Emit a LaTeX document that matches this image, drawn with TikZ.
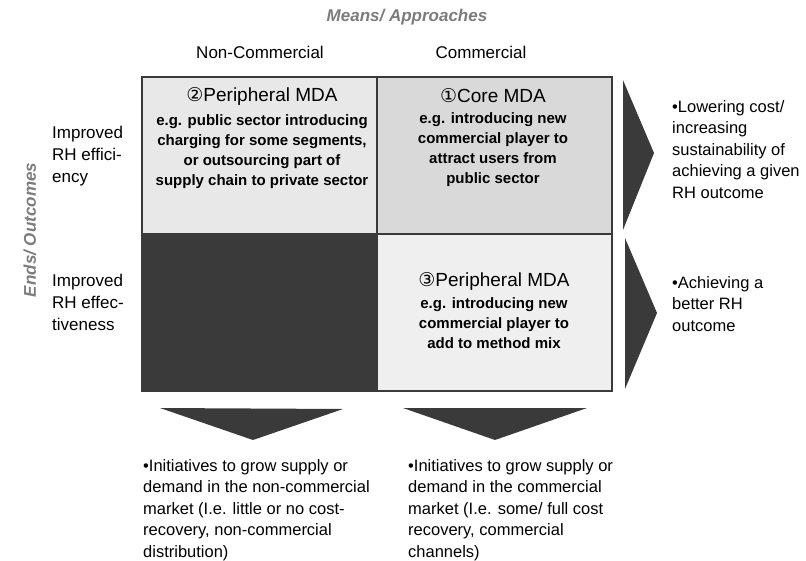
\documentclass[tikz,border=0pt]{standalone}
\usepackage{fontspec}
\setmainfont{Liberation Sans}
\newfontfamily\circfont{DejaVu Sans}
\usetikzlibrary{positioning}

\definecolor{cellgrey}{HTML}{E8E8E8}
\definecolor{coregrey}{HTML}{D9D9D9}
\definecolor{darkcell}{HTML}{3A3A3A}
\definecolor{axisgrey}{HTML}{7C7C7C}

\begin{document}
\begin{tikzpicture}[x=1pt,y=-1pt,
        axis/.style={font=\fontsize{17}{20}\selectfont\bfseries\itshape, text=axisgrey, inner sep=0pt},
        colhead/.style={font=\fontsize{17}{20}\selectfont, inner sep=0pt},
        rowhead/.style={font=\fontsize{17}{22}\selectfont, align=left, anchor=north west, inner sep=0pt},
        mdatitle/.style={font=\fontsize{19}{22}\selectfont, inner sep=0pt},
        mdanote/.style={font=\fontsize{15}{20}\selectfont\bfseries, align=center, inner sep=0pt},
        result/.style={font=\fontsize{16.5}{21.5}\selectfont, align=left, anchor=north west, inner sep=0pt},
        arrowfill/.style={fill=darkcell}]
    \useasboundingbox (0,0) rectangle (806,560);

    \begin{scope}
        % quadrants
        \fill[cellgrey] (142, 77) rectangle (377, 234);
        \fill[coregrey] (377, 77) rectangle (612, 234);
        \fill[darkcell] (142, 234) rectangle (377, 391);
        \fill[cellgrey!70!white] (377, 234) rectangle (612, 391);
        \draw[line width=2pt, darkcell] (142, 77) rectangle (612, 391);
        \draw[line width=2pt, darkcell] (377, 77) -- (377, 391);
        \draw[line width=2pt, darkcell] (142, 234) -- (612, 234);

        % arrows
        \fill[arrowfill] (623, 80) -- (654, 153) -- (623, 230) -- cycle;
        \fill[arrowfill] (625, 238) -- (657, 313) -- (625, 389) -- cycle;
        \fill[arrowfill] (160, 408) -- (343, 409) -- (253, 440) -- cycle;
        \fill[arrowfill] (403, 408) -- (587, 408) -- (495, 440) -- cycle;
    \end{scope}

    % axes
    \node[axis] (means) at (407, 17) {Means/ Approaches};
    \node[axis, rotate=90] (ends) at (30, 230) {Ends/ Outcomes};
    \node[colhead] (noncomm) at (260, 52) {Non-Commercial};
    \node[colhead] (comm) at (481, 52) {Commercial};
    \node[rowhead] (effic) at (52, 126) {Improved\\RH effici-\\ency};
    \node[rowhead] (effect) at (52, 274) {Improved\\RH effec-\\tiveness};

    % quadrant texts
    \node[mdatitle] (periph2) at (262, 96) {{\circfont②}Peripheral MDA};
    \node[mdanote, below=9pt of periph2] (note2) {e.g. public sector introducing\\charging for some segments,\\or outsourcing part of\\supply chain to private sector};
    \node[mdatitle] (core1) at (493, 96) {{\circfont①}Core MDA};
    \node[mdanote, below=9pt of core1] (note1) {e.g. introducing new\\commercial player to\\attract users from\\public sector};
    \node[mdatitle] (periph3) at (494, 281) {{\circfont③}Peripheral MDA};
    \node[mdanote, below=7pt of periph3] (note3) {e.g. introducing new\\commercial player to\\add to method mix};

    % outcomes of the arrows
    \node[result] (lowcost) at (672, 100) {•Lowering cost/\\increasing\\sustainability of\\achieving a given\\RH outcome};
    \node[result] (better) at (672, 276) {•Achieving a\\better RH\\outcome};
    \node[result] (grownon) at (143, 459) {•Initiatives to grow supply or\\demand in the non-commercial\\market (I.e. little or no cost-\\recovery, non-commercial\\distribution)};
    \node[result] (growcomm) at (408, 459) {•Initiatives to grow supply or\\demand in the commercial\\market (I.e. some/ full cost\\recovery, commercial\\channels)};
\end{tikzpicture}
\end{document}
